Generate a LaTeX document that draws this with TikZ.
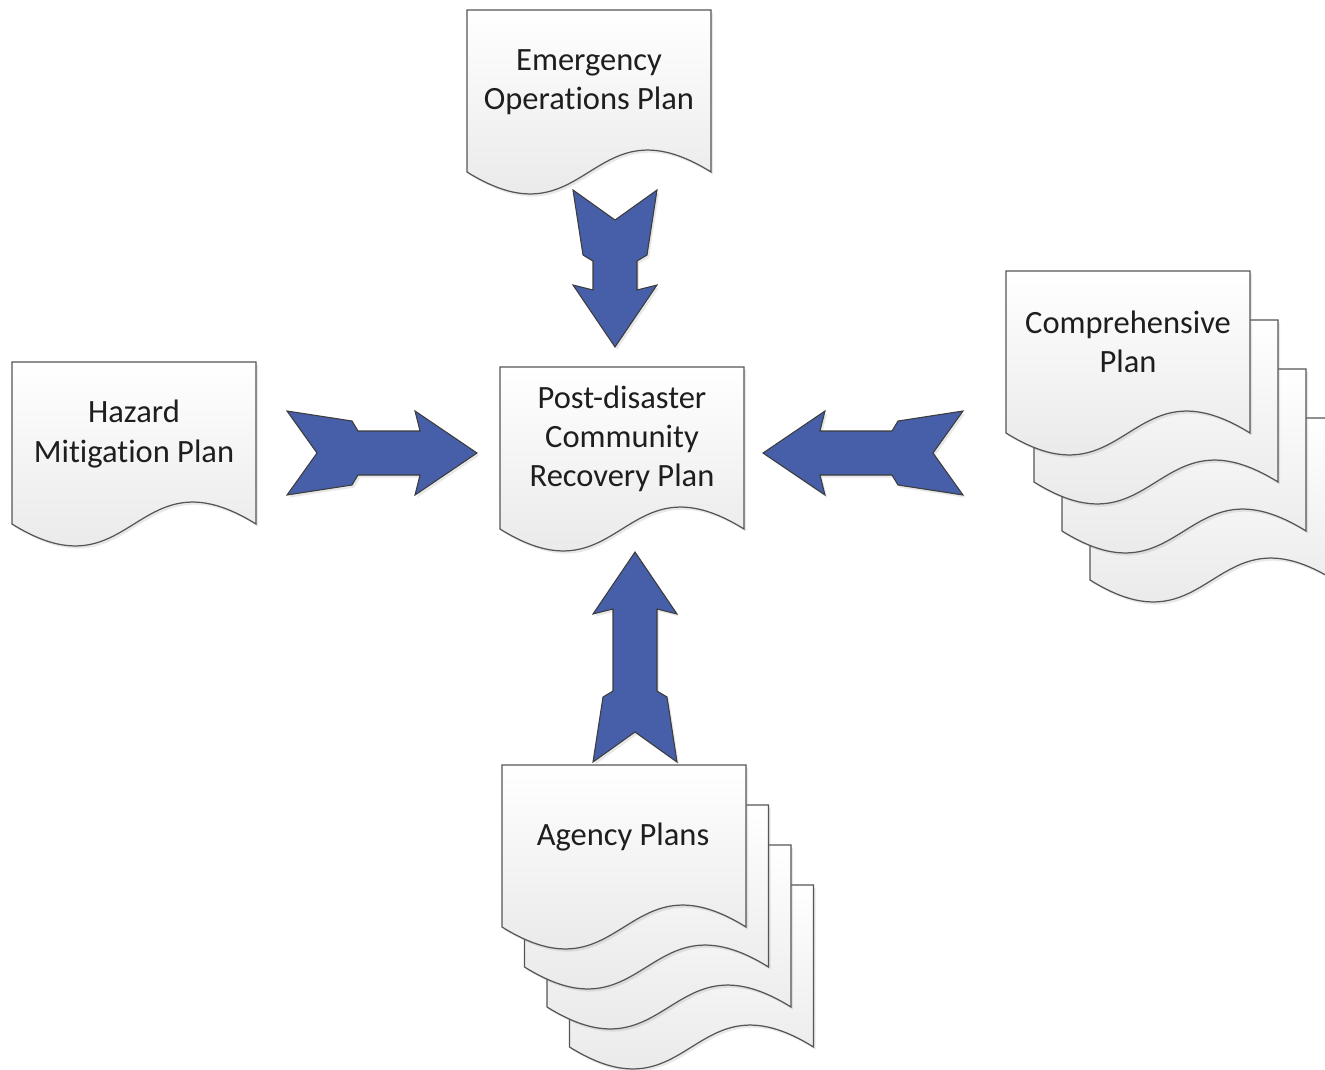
\documentclass[tikz,border=0pt]{standalone}
\usepackage{fontspec}
\setmainfont{Carlito}[Ligatures=NoCommon]
\usepackage{tikz}
\usetikzlibrary{shadows}
\definecolor{arrowblue}{RGB}{70,95,168}
\definecolor{arrowline}{RGB}{60,60,60}
\definecolor{pageline}{RGB}{85,85,85}
\definecolor{pagebottom}{RGB}{228,228,228}
\definecolor{plantextcol}{RGB}{30,30,30}
\tikzstyle{page}      = [draw=pageline,line width=0.7pt,top color=white,bottom color=pagebottom,
                         drop shadow={opacity=0.18,shadow xshift=1.2pt,shadow yshift=-1.5pt}]
\tikzstyle{plantext}  = [align=center,text=plantextcol,font=\fontsize{18.5}{22.2}\selectfont]
\tikzstyle{blockarrow}= [draw=arrowline,line width=0.6pt,fill=arrowblue,
                         drop shadow={opacity=0.18,shadow xshift=1.2pt,shadow yshift=-1.5pt}]

% one sheet, given by its top left corner
\newcommand{\docpage}[2]{%
  \path[page] (#1,#2) -- (#1+244,#2) -- (#1+244,#2+162)
    .. controls (#1+122,#2+86) and (#1+122,#2+238) .. (#1,#2+162) -- cycle;
}
% notched arrow: tail, direction, length
\newcommand{\fletcharrow}[3]{%
  \begin{scope}[shift={(#1)},rotate=#2]
    \path[blockarrow] (0,-42) -- (30,0) -- (0,42) -- (65,32) -- (71,22) -- (#3-57,22)
      -- (#3-62,42) -- (#3,0) -- (#3-62,-42) -- (#3-57,-22) -- (71,-22) -- (65,-32) -- cycle;
  \end{scope}
}

\begin{document}
\begin{tikzpicture}[x=0.02cm,y=-0.02cm]
  \useasboundingbox (0,0) rectangle (1325,1069);
  \clip (0,0) rectangle (1325,1069);

  %put the single sheets
  \docpage{467}{10}
  \node[plantext] (eop) at (589,82) {Emergency\\Operations Plan};
  \docpage{12}{362}
  \node[plantext] (hmp) at (134,434) {Hazard\\Mitigation Plan};
  \docpage{500}{367}
  \node[plantext] (pdcrp) at (622,439) {Post-disaster\\Community\\Recovery Plan};

  %put the stacked sheets
  \foreach \k in {3,2,1}{
    \docpage{1006+28*\k}{271+49*\k}
  }
  \docpage{1006}{271}
  \node[plantext] (cp) at (1128,342) {Comprehensive\\Plan};

  \foreach \k in {3,2,1}{
    \docpage{502+22.5*\k}{765+40*\k}
  }
  \docpage{502}{765}
  \node[plantext] (ap) at (623,837) {Agency Plans};

  %arrows into the recovery plan
  \coordinate (eop-out) at (615,190);
  \coordinate (hmp-out) at (287,453);
  \coordinate (cp-out)  at (963,453);
  \coordinate (ap-out)  at (635,762);
  \fletcharrow{eop-out}{-90}{157}
  \fletcharrow{hmp-out}{0}{190}
  \fletcharrow{cp-out}{180}{200}
  \fletcharrow{ap-out}{90}{210}
\end{tikzpicture}
\end{document}
